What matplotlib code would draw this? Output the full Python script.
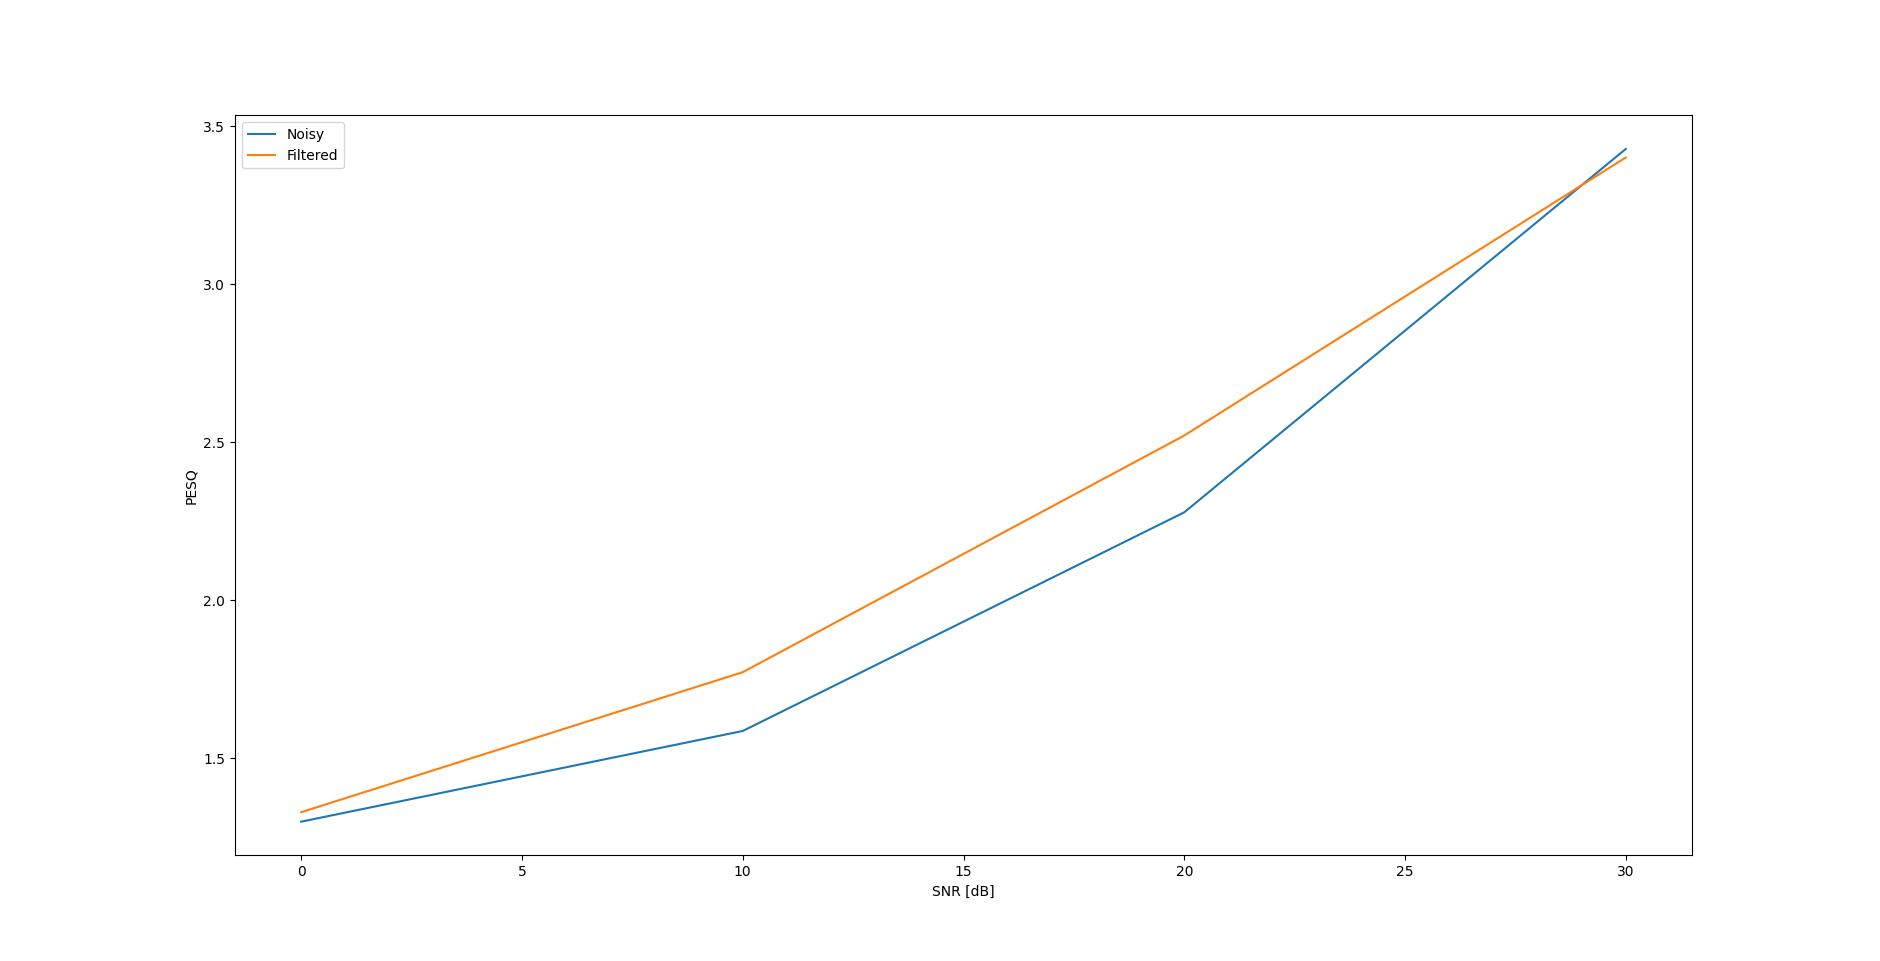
import matplotlib
matplotlib.use("Agg")
import matplotlib.pyplot as plt

snr = [0, 10, 20, 30]
noisy = [1.299, 1.586, 2.278, 3.428]
filtered = [1.329, 1.772, 2.521, 3.401]

fig, ax = plt.subplots(figsize=(18.8, 9.61), dpi=100)
ax.plot(snr, noisy, label="Noisy")
ax.plot(snr, filtered, label="Filtered")
ax.set_xlabel("SNR [dB]")
ax.set_ylabel("PESQ")
ax.legend(loc="upper left")
fig.savefig("out.png", dpi=100)
